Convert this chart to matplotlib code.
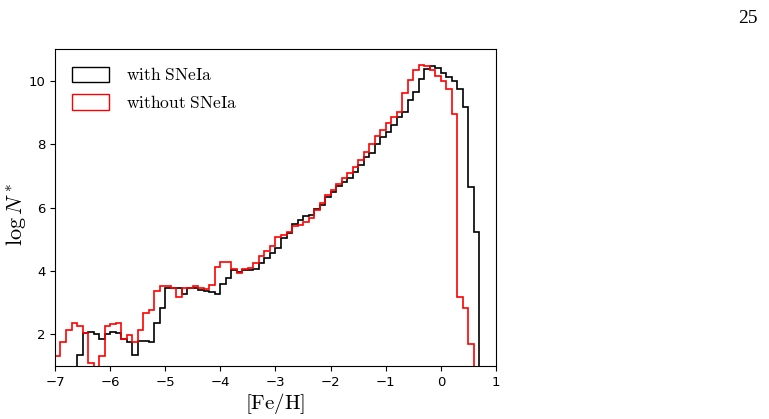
import numpy as np
import matplotlib
matplotlib.use('Agg')
import matplotlib.pyplot as plt
from matplotlib.patches import Patch

plt.rcParams['mathtext.fontset'] = 'cm'

### Data (log N* per 0.1 dex [Fe/H] bin)
bin_edges = np.round(np.arange(-7.0, 0.71, 0.1), 2)

with_snia = [
    0, 0, 0, 0, 1.36, 2.05, 2.08, 2.00, 1.85, 2.01,
    2.07, 2.05, 1.86, 1.75, 1.35, 1.80, 1.80, 1.75, 2.35, 2.82,
    3.45, 3.45, 3.45, 3.27, 3.45, 3.47, 3.40, 3.38, 3.35, 3.26,
    3.58, 3.79, 4.03, 3.98, 4.03, 4.03, 4.05, 4.26, 4.42, 4.55,
    4.73, 5.03, 5.20, 5.47, 5.60, 5.74, 5.77, 5.95, 6.09, 6.32,
    6.48, 6.68, 6.79, 6.92, 7.11, 7.34, 7.58, 7.73, 7.99, 8.23,
    8.39, 8.60, 8.86, 9.00, 9.39, 9.65, 10.07, 10.36, 10.47, 10.39,
    10.25, 10.13, 10.00, 9.73, 9.18, 6.64, 5.24,
]

without_snia = [
    1.32, 1.77, 2.15, 2.36, 2.27, 2.05, 1.08, 0, 1.32, 2.27,
    2.32, 2.37, 1.86, 1.97, 1.76, 2.14, 2.68, 2.77, 3.38, 3.53,
    3.52, 3.45, 3.17, 3.45, 3.47, 3.52, 3.45, 3.43, 3.57, 4.12,
    4.27, 4.27, 4.05, 3.92, 4.05, 4.10, 4.24, 4.48, 4.64, 4.79,
    5.06, 5.14, 5.23, 5.42, 5.46, 5.53, 5.66, 5.92, 6.15, 6.39,
    6.55, 6.74, 6.92, 7.08, 7.27, 7.50, 7.76, 8.00, 8.26, 8.44,
    8.66, 8.85, 9.02, 9.60, 10.02, 10.34, 10.50, 10.47, 10.34, 10.15,
    10.00, 9.73, 8.95, 3.17, 2.82, 1.69, 0,
]

labels = [r'$\mathrm{with\ SNeIa}$', r'$\mathrm{without\ SNeIa}$']
colors = ['black', 'red']

### Plot
fig = plt.figure(figsize=(7.69, 4.19), dpi=100)
ax = fig.add_axes([0.0715, 0.1265, 0.5735, 0.7565])

ax.stairs(with_snia, bin_edges, color=colors[0], lw=1.2, baseline=0)
ax.stairs(without_snia, bin_edges, color=colors[1], lw=1.2, baseline=0)

ax.set_xlim(-7, 1)
ax.set_ylim(1, 11)
ax.set_xticks(range(-7, 2))
ax.set_yticks([2, 4, 6, 8, 10])
ax.tick_params(labelsize=9.5)

ax.set_xlabel(r'$[\mathrm{Fe/H}]$', fontsize=15, labelpad=2)
ax.set_ylabel(r'$\log N^*$', fontsize=16)
ax.yaxis.set_label_coords(-0.06, 0.48)

handles = [Patch(facecolor='none', edgecolor=c, lw=1.0) for c in colors]
ax.legend(handles, labels, loc='upper left', frameon=False, fontsize=12.5,
          handlelength=2.1, handleheight=1.0, handletextpad=1.0,
          borderaxespad=0.6, labelspacing=0.55)

fig.text(0.973, 0.955, '25', family='Liberation Serif', fontsize=14,
         ha='center', va='center')

plt.savefig('out.png', dpi=100)
plt.close(fig)
